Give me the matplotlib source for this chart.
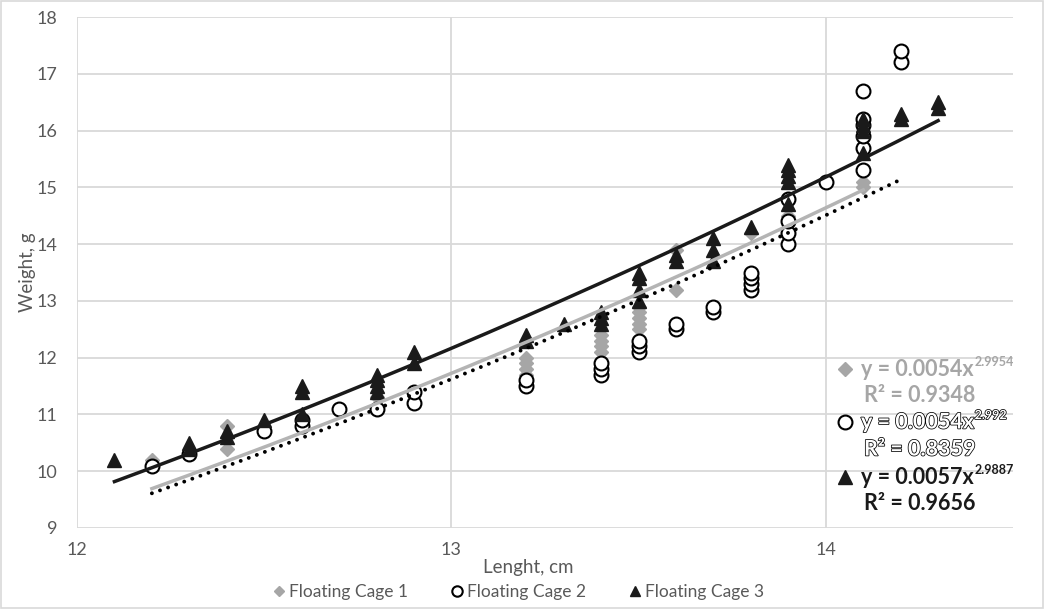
import matplotlib.pyplot as plt
import numpy as np
from matplotlib import patheffects
from matplotlib.lines import Line2D
from matplotlib.patches import Rectangle

plt.rcParams['font.family'] = ['Lato', 'DejaVu Sans']

W, H = 1045, 609

# Floating cage 1 (length cm, weight g)
len1 = [12.2, 12.4, 12.4, 12.4, 12.8, 13.2, 13.2, 13.2, 13.2, 13.4, 13.4, 13.4, 13.4,
        13.5, 13.5, 13.5, 13.5, 13.5, 13.6, 13.6, 13.8, 13.9, 14.1, 14.1]
w1 = [10.2, 10.4, 10.6, 10.8, 11.3, 11.7, 11.8, 11.9, 12.0, 12.1, 12.2, 12.3, 12.4,
      12.5, 12.6, 12.7, 12.8, 12.9, 13.2, 13.9, 14.2, 14.5, 15.0, 15.1]

# Floating cage 2
len2 = [12.2, 12.3, 12.5, 12.6, 12.6, 12.7, 12.8, 12.9, 12.9, 13.2, 13.2, 13.4, 13.4, 13.4,
        13.5, 13.5, 13.5, 13.6, 13.6, 13.7, 13.7, 13.8, 13.8, 13.8, 13.8,
        13.9, 13.9, 13.9, 13.9, 14.0, 14.1, 14.1, 14.1, 14.1, 14.1, 14.1, 14.2, 14.2]
w2 = [10.1, 10.3, 10.7, 10.8, 10.9, 11.1, 11.1, 11.2, 11.4, 11.5, 11.6, 11.7, 11.8, 11.9,
      12.1, 12.2, 12.3, 12.5, 12.6, 12.8, 12.9, 13.2, 13.3, 13.4, 13.5,
      14.0, 14.2, 14.4, 14.8, 15.1, 15.3, 15.7, 15.9, 16.1, 16.2, 16.7, 17.2, 17.4]

# Floating cage 3
len3 = [12.1, 12.3, 12.3, 12.4, 12.4, 12.5, 12.6, 12.6, 12.6, 12.8, 12.8, 12.8, 12.8,
        12.9, 12.9, 13.2, 13.2, 13.3, 13.4, 13.4, 13.4, 13.5, 13.5, 13.5, 13.5,
        13.6, 13.6, 13.7, 13.7, 13.7, 13.8, 13.9, 13.9, 13.9, 13.9, 13.9,
        14.1, 14.1, 14.1, 14.1, 14.2, 14.2, 14.3, 14.3]
w3 = [10.2, 10.4, 10.5, 10.6, 10.7, 10.9, 11.0, 11.4, 11.5, 11.4, 11.5, 11.6, 11.7,
      11.9, 12.1, 12.3, 12.4, 12.6, 12.6, 12.7, 12.8, 13.0, 13.2, 13.4, 13.5,
      13.7, 13.8, 13.7, 13.9, 14.1, 14.3, 14.7, 15.1, 15.2, 15.3, 15.4,
      15.6, 16.0, 16.1, 16.2, 16.2, 16.3, 16.4, 16.5]

# power trendlines y = a * x^b
coef_a = [0.0054, 0.0054, 0.0057]
coef_b = [2.9954, 2.992, 2.9887]
r2 = [0.9348, 0.8359, 0.9656]
b_txt = ['2.9954', '2.992', '2.9887']
labels = ['Floating Cage 1', 'Floating Cage 2', 'Floating Cage 3']

gray_txt = '#595959'
c1 = '#a6a6a6'
fig = plt.figure(figsize=(W / 100, H / 100), dpi=100)
ax = fig.add_axes([77 / W, 1 - 528 / H, (1013 - 77) / W, (528 - 17) / H])

m1, = ax.plot(len1, w1, 'D', ms=7, color=c1, mec=c1, zorder=3)
m2, = ax.plot(len2, w2, 'o', ms=10, mfc='white', mec='black', mew=1.5, zorder=4)
m3, = ax.plot(len3, w3, '^', ms=10.5, color='#1a1a1a', zorder=5)

styles = [dict(color='#b4b4b4', lw=2.5, ls='-'),
          dict(color='black', lw=2.8, ls=(0, (0.01, 2.2)), dash_capstyle='round'),
          dict(color='#1a1a1a', lw=2.5, ls='-')]
for xs, a, b, st in zip([len1, len2, len3], coef_a, coef_b, styles):
    xx = np.linspace(min(xs), max(xs), 200)
    ax.plot(xx, a * xx ** b, zorder=6, **st)

ax.set_xlim(12, 14.5)
ax.set_ylim(9, 18)
ax.set_xticks([12, 13, 14])
ax.set_yticks(range(9, 19))
ax.grid(True, color='#d9d9d9', lw=1.3)
ax.set_axisbelow(True)
for s in ax.spines.values():
    s.set_visible(False)
ax.tick_params(length=0, labelcolor=gray_txt, labelsize=13)
ax.tick_params(axis='y', pad=14)
ax.tick_params(axis='x', pad=10)

fig.text(528 / W, 1 - 567 / H, 'Lenght, cm', ha='center', va='center', color=gray_txt, fontsize=13.5)
fig.text(27 / W, 1 - 272 / H, 'Weight, g', ha='center', va='center', rotation=90,
         color=gray_txt, fontsize=13.5)

fig.legend([m1, m2, m3], labels, loc='center', bbox_to_anchor=(518 / W, 1 - 592 / H),
           ncol=3, frameon=False, fontsize=12.5, labelcolor=gray_txt, handlelength=0.8,
           handletextpad=0.2, columnspacing=2.4, markerscale=0.75)

# equation labels for the trendlines
hollow = [patheffects.withStroke(linewidth=1.1, foreground='black')]
eq_rows = [369, 422, 477]
eq_styles = [dict(color=c1, path_effects=None),
             dict(color='white', path_effects=hollow),
             dict(color='#1a1a1a', path_effects=None)]
mk = [dict(marker='D', ms=7, color=c1, mec=c1),
      dict(marker='o', ms=10, mfc='white', mec='black', mew=1.5),
      dict(marker='^', ms=10.5, color='#1a1a1a')]
fig.canvas.draw()
rend = fig.canvas.get_renderer()
for i in range(3):
    y = eq_rows[i]
    fig.add_artist(Line2D([845 / W], [1 - y / H], transform=fig.transFigure, ls='none', **mk[i]))
    kw = dict(fontsize=15.5, fontweight='bold', va='center', ha='left', **eq_styles[i])
    t = fig.text(861 / W, 1 - y / H, 'y = %.4fx' % coef_a[i], **kw)
    bb = t.get_window_extent(renderer=rend)
    kw_e = dict(kw, fontsize=9)
    fig.text((bb.x1 + 1) / W, 1 - (y - 7) / H, b_txt[i], **kw_e)
    fig.text(864 / W, 1 - (y + 27) / H, 'R² = %.4f' % r2[i], **kw)

fig.add_artist(Rectangle((0.001, 0.002), 0.997, 0.996, transform=fig.transFigure,
                         fill=False, edgecolor='#d9d9d9', lw=1.2))

fig.savefig('out.png', dpi=100)
